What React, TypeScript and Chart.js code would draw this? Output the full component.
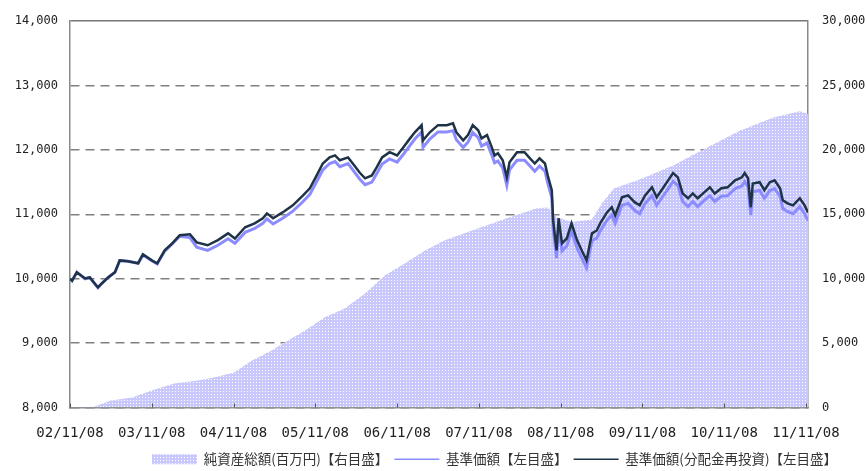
import React, { useEffect, useRef } from 'react';
import { Chart, registerables } from 'chart.js';

Chart.register(...registerables);

// x axis: months since 02/11/08
const tickMonths = [0, 12, 24, 36, 48, 60, 72, 84, 96, 108];
const tickLabels = ['02/11/08', '03/11/08', '04/11/08', '05/11/08', '06/11/08', '07/11/08', '08/11/08', '09/11/08', '10/11/08', '11/11/08'];

const leftTicks = [8000, 9000, 10000, 11000, 12000, 13000, 14000];
const rightTicks = [0, 5000, 10000, 15000, 20000, 25000, 30000];

const seriesNames = ['純資産総額(百万円)【右目盛】', '基準価額【左目盛】', '基準価額(分配金再投資)【左目盛】'];

const priceMonths = [
  0.0, 0.3, 1.0, 2.2, 2.9, 4.1, 4.7, 5.6, 6.6, 7.3, 8.5, 10.0, 10.7, 12.0, 12.8, 13.9, 15.0, 16.1, 17.6, 18.6,
  20.2, 21.7, 23.2, 24.2, 25.7, 27.1, 28.3, 28.9, 29.8, 31.2, 32.7, 34.2, 35.2, 36.2, 37.1, 38.1, 38.9, 39.6, 40.8, 41.5,
  42.5, 43.3, 44.3, 45.0, 45.8, 46.9, 48.0, 48.9, 49.9, 50.6, 51.6, 51.8, 52.8, 54.0, 55.3, 56.2, 56.7, 57.7, 58.4, 59.1,
  59.9, 60.4, 61.2, 61.9, 62.3, 62.8, 63.5, 64.1, 64.5, 65.6, 66.7, 67.5, 68.2, 68.9, 69.7, 70.1, 70.7, 70.9, 71.4, 71.7,
  72.2, 72.9, 73.6, 74.4, 75.1, 75.8, 76.6, 77.3, 77.8, 78.8, 79.5, 80.0, 81.0, 81.9, 82.9, 83.6, 84.4, 85.4, 86.1, 86.8,
  87.6, 88.5, 89.2, 89.9, 90.7, 91.4, 92.1, 92.9, 93.9, 94.6, 95.6, 96.5, 97.6, 98.6, 99.0, 99.5, 99.9, 100.2, 101.2, 101.9,
  102.7, 103.4, 104.2, 104.6, 105.3, 106.1, 107.1, 107.8, 108.3,
];

// 基準価額(分配金再投資)
const navReinvested = [
  10000, 9970, 10100, 10005, 10020, 9865, 9930, 10020, 10100, 10285, 10270, 10240, 10380, 10285, 10240, 10440, 10550, 10675, 10690, 10565,
  10520, 10600, 10705, 10625, 10800, 10860, 10940, 11015, 10940, 11030, 11140, 11295, 11405, 11605, 11790, 11885, 11915, 11840, 11885, 11790,
  11650, 11560, 11605, 11730, 11885, 11965, 11915, 12040, 12180, 12275, 12385, 12150, 12275, 12385, 12385, 12415, 12275, 12150, 12230, 12385,
  12305, 12180, 12230, 12040, 11915, 11950, 11840, 11575, 11810, 11965, 11965, 11870, 11790, 11870, 11790, 11605, 11375, 10907, 10440, 10940,
  10550, 10625, 10860, 10600, 10440, 10285, 10705, 10750, 10860, 11030, 11110, 10985, 11265, 11295, 11185, 11140, 11295, 11420, 11265, 11375,
  11500, 11640, 11575, 11325, 11250, 11325, 11250, 11325, 11420, 11325, 11405, 11420, 11530, 11575, 11640, 11560, 11110, 11480, 11500, 11375,
  11500, 11530, 11405, 11220, 11170, 11140, 11250, 11140, 11030,
];

// 基準価額
const nav = [
  10000, 9970, 10100, 10000, 10020, 9860, 9930, 10020, 10100, 10280, 10270, 10240, 10370, 10280, 10230, 10430, 10540, 10660, 10640, 10490,
  10440, 10520, 10620, 10550, 10720, 10780, 10860, 10930, 10850, 10940, 11050, 11200, 11310, 11510, 11690, 11790, 11820, 11740, 11790, 11690,
  11550, 11460, 11500, 11630, 11780, 11860, 11810, 11930, 12070, 12170, 12280, 12040, 12170, 12280, 12280, 12300, 12160, 12040, 12120, 12270,
  12190, 12060, 12110, 11920, 11800, 11830, 11720, 11450, 11690, 11840, 11840, 11750, 11670, 11750, 11670, 11490, 11260, 10790, 10320, 10820,
  10430, 10510, 10740, 10480, 10320, 10170, 10590, 10630, 10740, 10910, 10990, 10860, 11140, 11170, 11060, 11010, 11170, 11290, 11140, 11250,
  11370, 11510, 11450, 11200, 11120, 11200, 11120, 11200, 11290, 11200, 11280, 11290, 11400, 11440, 11510, 11430, 10990, 11350, 11370, 11250,
  11370, 11400, 11280, 11090, 11040, 11010, 11120, 11010, 10900,
];

const assetMonths = [
  0, 3.5, 6.0, 9.1, 12.0, 15.3, 18.7, 21.1, 24.1, 26.7, 29.6, 31.5, 34.5, 37.4, 40.3, 43.3, 46.2, 49.1, 52.1, 55.0,
  59.1, 64.1, 68.5, 70.1, 71.4, 73.6, 76.6, 78.0, 79.8, 83.6, 88.5, 93.5, 98.3, 103.1, 107.1, 108.3,
];

// 純資産総額(百万円)
const netAssets = [
  0, 50, 540, 780, 1320, 1865, 2100, 2330, 2720, 3650, 4430, 5050, 5985, 7000, 7695, 8860, 10260, 11190, 12200, 12980,
  13760, 14690, 15470, 15540, 14800, 14400, 14600, 15800, 17000, 17700, 18800, 20200, 21500, 22500, 23000, 22800,
];

const tickFont = { family: '"DejaVu Sans Mono", monospace', size: 12 };
const xFont = { family: '"DejaVu Sans Mono", monospace', size: 14 };

const innerTicks = {
  id: 'innerTicks',
  afterLayout(chart: any) {
    const lg = chart.legend;
    if (lg) {
      lg.right -= 24;
      lg.width -= 24;
      lg.top += 5;
      lg.bottom += 5;
    }
  },
  afterDatasetsDraw(chart: any) {
    const { ctx, scales, chartArea } = chart;
    const x = scales.x;
    ctx.save();
    ctx.strokeStyle = '#555555';
    ctx.lineWidth = 1;
    tickMonths.forEach((m) => {
      const px = Math.round(x.getPixelForValue(m)) + 0.5;
      ctx.beginPath();
      ctx.moveTo(px, chartArea.bottom);
      ctx.lineTo(px, chartArea.bottom - 4);
      ctx.stroke();
    });
    ctx.restore();
  },
};

export default function App() {
  const canvasRef = useRef<HTMLCanvasElement | null>(null);

  useEffect(() => {
    const canvas = canvasRef.current;
    if (!canvas) return;
    const ctx = canvas.getContext('2d');
    if (!ctx) return;

    const pc = document.createElement('canvas');
    pc.width = 3;
    pc.height = 3;
    const pctx = pc.getContext('2d')!;
    pctx.fillStyle = '#c8c8fd';
    pctx.fillRect(0, 0, 3, 3);
    pctx.fillStyle = '#ffffff';
    pctx.fillRect(1, 1, 1, 1);
    const pattern = ctx.createPattern(pc, 'repeat');

    const chart = new Chart(ctx, {
      type: 'line',
      data: {
        datasets: [
          {
            label: seriesNames[0],
            data: assetMonths.map((m, i) => ({ x: m, y: netAssets[i] })),
            yAxisID: 'y1',
            backgroundColor: pattern as any,
            borderColor: '#c8c8fd',
            borderWidth: 0,
            fill: 'origin',
            pointRadius: 0,
            pointStyle: 'rect',
            tension: 0,
            order: 2,
          },
          {
            label: seriesNames[1],
            data: priceMonths.map((m, i) => ({ x: m, y: nav[i] })),
            yAxisID: 'y',
            borderColor: '#8c8cff',
            backgroundColor: '#8c8cff',
            borderWidth: 3,
            fill: false,
            pointRadius: 0,
            pointStyle: 'line',
            tension: 0,
            order: 1,
          },
          {
            label: seriesNames[2],
            data: priceMonths.map((m, i) => ({ x: m, y: navReinvested[i] })),
            yAxisID: 'y',
            borderColor: '#1e3346',
            backgroundColor: '#1e3346',
            borderWidth: 2.5,
            fill: false,
            pointRadius: 0,
            pointStyle: 'line',
            tension: 0,
            order: 0,
          },
        ],
      },
      options: {
        animation: false,
        responsive: true,
        maintainAspectRatio: false,
        layout: { padding: { top: 21, right: 0, left: 0, bottom: 0 } },
        plugins: {
          tooltip: { enabled: false },
          legend: {
            position: 'bottom',
            align: 'end',
            labels: {
              usePointStyle: true,
              pointStyleWidth: 45,
              boxHeight: 10,
              padding: 6,
              color: '#333333',
              font: { family: '"Noto Sans CJK JP", sans-serif', size: 13.5 },
              sort: (a: any, b: any) => a.datasetIndex - b.datasetIndex,
              generateLabels: (c: any) => {
                const items = (Chart.defaults.plugins.legend.labels as any).generateLabels(c);
                items.forEach((it: any) => {
                  if (it.datasetIndex === 1) { it.lineWidth = 1.5; }
                  if (it.datasetIndex === 2) { it.lineWidth = 1.5; }
                  if (it.datasetIndex === 0) { it.lineWidth = 0; }
                });
                return items;
              },
            },
          },
        },
        scales: {
          x: {
            type: 'linear',
            min: 0,
            max: 108.3,
            afterBuildTicks: (s: any) => {
              s.ticks = tickMonths.map((v) => ({ value: v }));
            },
            afterFit: (s: any) => { s.height = 34; },
            grid: { display: false, drawTicks: false },
            border: { display: true, color: '#8a8a8a', width: 1.5 },
            ticks: {
              autoSkip: false,
              maxRotation: 0,
              padding: 17,
              color: '#222222',
              font: xFont,
              callback: (v: any) => {
                const i = tickMonths.indexOf(Number(v));
                return i >= 0 ? tickLabels[i] : '';
              },
            },
          },
          y: {
            type: 'linear',
            position: 'left',
            min: 8000,
            max: 14000,
            afterBuildTicks: (s: any) => {
              s.ticks = leftTicks.map((v) => ({ value: v }));
            },
            afterFit: (s: any) => { s.width = 70; },
            grid: {
              display: true,
              drawTicks: false,
              color: (c: any) => (c.tick && c.tick.value === 14000 ? '#777777' : '#808080'),
              lineWidth: 1.5,
            },
            border: {
              display: true,
              color: '#8a8a8a',
              width: 1.5,
              dash: (c: any) => (c.tick && c.tick.value === 14000 ? [] : [9, 6]),
            },
            ticks: {
              padding: 12,
              color: '#222222',
              font: tickFont,
              callback: (v: any) => Number(v).toLocaleString('en-US'),
            },
          },
          y1: {
            type: 'linear',
            position: 'right',
            min: 0,
            max: 30000,
            afterBuildTicks: (s: any) => {
              s.ticks = rightTicks.map((v) => ({ value: v }));
            },
            afterFit: (s: any) => { s.width = 59; },
            grid: { display: false, drawTicks: false },
            border: { display: true, color: '#8a8a8a', width: 1.5 },
            ticks: {
              padding: 14,
              color: '#222222',
              font: tickFont,
              callback: (v: any) => Number(v).toLocaleString('en-US'),
            },
          },
        },
      },
      plugins: [innerTicks],
    } as any);

    return () => chart.destroy();
  }, []);

  return (
    <div style={{ position: 'absolute', left: 0, top: 0, width: 867, height: 471, background: '#ffffff' }}>
      <canvas ref={canvasRef} />
    </div>
  );
}
